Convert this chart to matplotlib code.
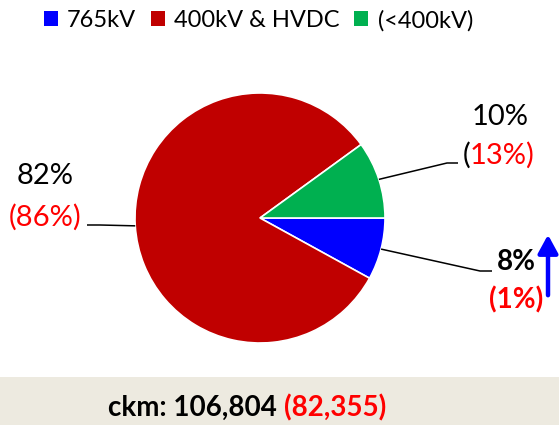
import matplotlib.pyplot as plt
import numpy as np
from matplotlib.patches import Patch, Rectangle

plt.rcParams['font.family'] = ['Lato', 'DejaVu Sans']

labels = ['765kV', '400kV & HVDC', '(<400kV)']
share_now = [8, 82, 10]
share_prev = [1, 86, 13]
ckm_now = '106,804'
ckm_prev = '82,355'
colors = ['#0000FF', '#C00000', '#00B050']

H = 425
fig = plt.figure(figsize=(5.59, 4.25), dpi=100)
ax = fig.add_axes([0, 0, 1, 1])

cx, cy, r = 260, H - 218, 125
wedges, _ = ax.pie(share_now, colors=colors, startangle=0, counterclock=False,
                   center=(cx, cy), radius=r,
                   wedgeprops=dict(edgecolor='white', linewidth=1.2))
ax.set_xlim(0, 559); ax.set_ylim(0, H)
ax.set_aspect('equal')
ax.axis('off')

def edge_pt(w):
    a = np.deg2rad((w.theta1 + w.theta2) / 2)
    return cx + r * np.cos(a), cy + r * np.sin(a)

# leader lines (elbow points in pixel coords, y from top)
elbows = [[(480, 271), (492, 271)], [(100, 225), (87, 225)], [(447, 163), (458, 163)]]
for w, pts in zip(wedges, elbows):
    x0, y0 = edge_pt(w)
    xs = [x0] + [p[0] for p in pts]
    ys = [y0] + [H - p[1] for p in pts]
    ax.plot(xs, ys, color='black', lw=1.1, solid_capstyle='butt')

fs = 21
fb = 20
# blue
ax.text(516, H - 262, f'{share_now[0]}%', ha='center', va='center', fontsize=fb, fontweight='bold')
ax.text(516, H - 300, f'({share_prev[0]}%)', ha='center', va='center', fontsize=fb, fontweight='bold', color='red')
ax.annotate('', xy=(548, H - 232), xytext=(548, H - 298),
            arrowprops=dict(arrowstyle='-|>,head_length=1.1,head_width=0.6', color='#0000FF', lw=3.2))
# red
ax.text(45, H - 176, f'{share_now[1]}%', ha='center', va='center', fontsize=fs)
ax.text(45, H - 217, f'({share_prev[1]}%)', ha='center', va='center', fontsize=fs, color='red')
# green
ax.text(500, H - 117, f'{share_now[2]}%', ha='center', va='center', fontsize=fs)
ax.text(470, H - 155, '(', ha='right', va='center', fontsize=fs, color='black')
ax.text(470, H - 155, f'{share_prev[2]}%)', ha='left', va='center', fontsize=fs, color='red')

# legend
handles = [Patch(facecolor=c, edgecolor='none') for c in colors]
fig.legend(handles, labels, loc='upper center', bbox_to_anchor=(0.462, 1.027), ncol=3,
           frameon=False, fontsize=17, handlelength=0.6, handleheight=0.6,
           handletextpad=0.4, columnspacing=0.6)

# bottom band
ax.add_patch(Rectangle((0, 0), 559, 48, facecolor='#EDEAE0', edgecolor='none'))
ax.text(284, 17, f'ckm: {ckm_now} ', ha='right', va='center', fontsize=20, fontweight='bold')
ax.text(284, 17, f'({ckm_prev})', ha='left', va='center', fontsize=20, fontweight='bold', color='red')

fig.savefig('out.png', dpi=100)
